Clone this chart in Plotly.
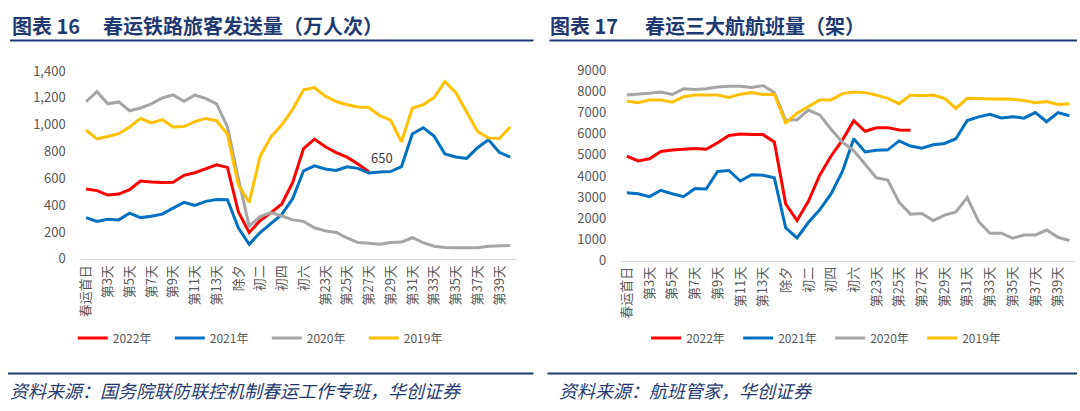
import plotly.graph_objects as go

categories = (['春运首日'] + [f'第{d}天' for d in range(2, 15)] +
              ['除夕', '初一', '初二', '初三', '初四', '初五', '初六'] +
              [f'第{d}天' for d in range(22, 41)])
shown_ticks = ['春运首日', '第3天', '第5天', '第7天', '第9天', '第11天', '第13天',
               '除夕', '初二', '初四', '初六', '第23天', '第25天', '第27天', '第29天',
               '第31天', '第33天', '第35天', '第37天', '第39天']
series_names = ['2022年', '2021年', '2020年', '2019年']

# 图表16 春运铁路旅客发送量（万人次）
rail_2022 = [521, 509, 476, 483, 516, 580, 573, 569, 571, 623, 642, 670, 701, 682,
             351, 197, 285, 345, 410, 570, 822, 893, 836, 792, 758, 708, 650]
rail_2021 = [308, 280, 296, 291, 341, 308, 318, 334, 379, 422, 398, 429, 443, 441,
             232, 109, 197, 268, 332, 450, 657, 694, 670, 659, 687, 675, 640, 647,
             651, 687, 931, 978, 915, 782, 760, 749, 829, 888, 794, 758]
rail_2020 = [1173, 1246, 1156, 1170, 1104, 1125, 1156, 1199, 1222, 1175, 1220, 1196,
             1156, 985, 600, 244, 315, 345, 320, 291, 280, 232, 209, 197, 156, 122,
             116, 110, 122, 126, 158, 121, 95, 86, 83, 83, 83, 95, 96, 100]
rail_2019 = [959, 895, 912, 933, 983, 1047, 1014, 1038, 983, 986, 1023, 1047, 1030,
             929, 552, 422, 765, 910, 1000, 1115, 1260, 1277, 1213, 1173, 1149, 1132,
             1128, 1067, 1034, 872, 1123, 1149, 1203, 1322, 1239, 1097, 949, 902, 898, 983]

# 图表17 春运三大航航班量（架）
air_2022 = [4939, 4714, 4818, 5165, 5237, 5269, 5300, 5269, 5571, 5915, 5990, 5960,
            5960, 5616, 2683, 1896, 2800, 4036, 4950, 5700, 6620, 6120, 6280, 6290,
            6180, 6170]
air_2021 = [3206, 3160, 3025, 3327, 3160, 3025, 3404, 3389, 4217, 4262, 3765, 4064,
            4034, 3915, 1553, 1070, 1800, 2400, 3150, 4220, 5765, 5140, 5225, 5240,
            5662, 5418, 5313, 5480, 5540, 5765, 6630, 6800, 6920, 6750, 6810, 6740,
            7000, 6570, 7000, 6850]
air_2020 = [7829, 7858, 7919, 7978, 7858, 8127, 8100, 8127, 8217, 8250, 8250, 8190,
            8280, 7950, 6640, 6660, 7120, 6894, 6217, 5600, 5200, 4560, 3914, 3811,
            2754, 2197, 2227, 1896, 2152, 2303, 2980, 1851, 1295, 1295, 1057, 1206,
            1206, 1445, 1102, 948]
air_2019 = [7540, 7468, 7603, 7603, 7495, 7752, 7829, 7829, 7829, 7721, 7874, 7947,
            7858, 7874, 6520, 6971, 7269, 7603, 7603, 7900, 7978, 7947, 7829, 7676,
            7423, 7829, 7800, 7829, 7676, 7197, 7676, 7645, 7645, 7645, 7630, 7570,
            7468, 7525, 7390, 7423]

rail_ticks = [0, 200, 400, 600, 800, 1000, 1200, 1400]
air_ticks = [0, 1000, 2000, 3000, 4000, 5000, 6000, 7000, 8000, 9000]

colors = ['#FF0000', '#0070C0', '#A5A5A5', '#FFC000']
W, H = 1080, 411
CJK = 'Noto Sans CJK SC'
NAVY = '#1F3A70'
GRAYTXT = '#595959'

fig = go.Figure()

rail = [rail_2022, rail_2021, rail_2020, rail_2019]
air = [air_2022, air_2021, air_2020, air_2019]

for name, vals, col in zip(series_names, rail, colors):
    fig.add_trace(go.Scatter(
        x=categories[:len(vals)], y=vals, name=name, mode='lines',
        line=dict(color=col, width=3), xaxis='x', yaxis='y', legend='legend',
        hoverinfo='skip'))

for name, vals, col in zip(series_names, air, colors):
    fig.add_trace(go.Scatter(
        x=categories[:len(vals)], y=vals, name=name, mode='lines',
        line=dict(color=col, width=3), xaxis='x2', yaxis='y2', legend='legend2',
        hoverinfo='skip'))

def px_x(v):
    return v / W

def px_y(v):
    return 1 - v / H

xcommon = dict(type='category', categoryorder='array', categoryarray=categories,
               range=[-0.5, 39.5], tickmode='array', tickvals=shown_ticks,
               ticktext=shown_ticks, tickangle=-90, showgrid=False, zeroline=False,
               showline=True, linecolor='#D9D9D9', linewidth=1, ticks='',
               tickfont=dict(family=CJK, size=13, color=GRAYTXT), fixedrange=True)
ycommon = dict(showgrid=False, zeroline=False, showline=False, ticks='',
               tickfont=dict(family=CJK, size=13, color=GRAYTXT), ticklabelstandoff=14,
               fixedrange=True)

legend_common = dict(orientation='h', yanchor='middle', y=px_y(344),
                     xanchor='center', font=dict(family=CJK, size=12, color=GRAYTXT),
                     entrywidthmode='pixels', bgcolor='rgba(0,0,0,0)',
                     itemclick=False, itemdoubleclick=False, tracegroupgap=0)

fig.update_layout(
    width=W, height=H,
    margin=dict(l=0, r=0, t=0, b=0),
    paper_bgcolor='white', plot_bgcolor='white',
    showlegend=True,
    xaxis=dict(domain=[px_x(76), px_x(513)], anchor='y', **xcommon),
    yaxis=dict(domain=[px_y(261), px_y(64)], anchor='x', range=[0, 1400],
               tickvals=rail_ticks, tickformat=',', **ycommon),
    xaxis2=dict(domain=[px_x(619), px_x(1075)], anchor='y2', **xcommon),
    yaxis2=dict(domain=[px_y(262.7), px_y(63.3)], anchor='x2', range=[0, 9000],
                tickvals=air_ticks, tickformat='d', **ycommon),
    legend=dict(x=px_x(263), entrywidth=52, **legend_common),
    legend2=dict(x=px_x(829), entrywidth=47, **legend_common),
)

annotations = []
def add_text(x, y, text, size, color, bold=False, italic=False):
    t = text
    if bold:
        t = f'<b>{t}</b>'
    if italic:
        t = f'<i>{t}</i>'
    annotations.append(dict(x=px_x(x), y=px_y(y), xref='paper', yref='paper',
                            text=t, showarrow=False, xanchor='left', yanchor='middle',
                            font=dict(family=CJK, size=size, color=color)))

add_text(5, 16, '图表 16', 20, NAVY, bold=True)
add_text(96, 16, '春运铁路旅客发送量（万人次）', 20, NAVY, bold=True)
add_text(546, 16, '图表 17', 20, NAVY, bold=True)
add_text(641, 16, '春运三大航航班量（架）', 20, NAVY, bold=True)
add_text(3, 398, '资料来源：国务院联防联控机制春运工作专班，华创证券', 18, NAVY, italic=True)
add_text(555, 398, '资料来源：航班管家，华创证券', 18, NAVY, italic=True)

# data label on the last 2022 railway point
annotations.append(dict(x=categories[len(rail_2022) - 1], y=rail_2022[-1], xref='x', yref='y',
                        text=f'{rail_2022[-1]}', showarrow=False, xanchor='left',
                        yanchor='bottom', xshift=0, yshift=3,
                        font=dict(family=CJK, size=13, color='#404040')))
fig.update_layout(annotations=annotations)

shapes = []
for x0, x1 in [(5, 531), (547, 1077)]:
    shapes.append(dict(type='line', xref='paper', yref='paper', x0=px_x(x0), x1=px_x(x1),
                       y0=px_y(32), y1=px_y(32), line=dict(color=NAVY, width=2)))
    shapes.append(dict(type='line', xref='paper', yref='paper', x0=px_x(x0 - 2), x1=px_x(x1),
                       y0=px_y(381), y1=px_y(381), line=dict(color=NAVY, width=2)))
fig.update_layout(shapes=shapes)

fig.write_html('out.html', config={'displayModeBar': False},
               post_script="document.body.style.margin='0';document.body.style.overflow='hidden';")
